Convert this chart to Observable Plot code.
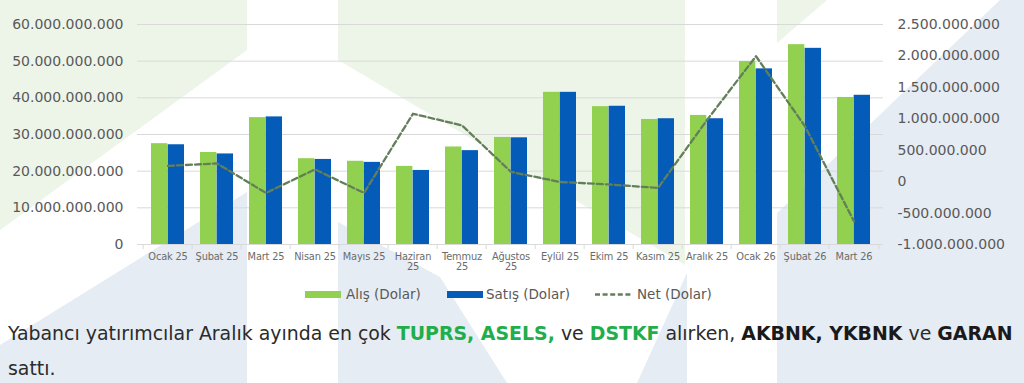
<!DOCTYPE html>
<html>
<head>
<meta charset="utf-8">
<script src="https://cdn.jsdelivr.net/npm/d3@7"></script>
<script src="https://cdn.jsdelivr.net/npm/@observablehq/plot@0.6"></script>
<style>
  html, body { margin: 0; padding: 0; background: #ffffff; }
  #wrap { position: relative; width: 1024px; height: 383px; overflow: hidden; font-family: "DejaVu Sans", sans-serif; }
  #bg { position: absolute; left: 0; top: 0; }
  #chart { position: absolute; left: 0; top: 0; }
  .legend { position: absolute; top: 285px; left: 0; height: 18px; font-size: 13.5px; color: #595959; line-height: 18px; }
  .legend .item { position: absolute; top: 0; white-space: nowrap; }
  .legend .sw { position: absolute; top: 6px; height: 7px; }
  .caption { position: absolute; left: 8px; white-space: nowrap; color: #2b2b2b; }
  .caption b.g { color: #1fae4b; }
  .caption b.k { color: #1a1a1a; }
  g[aria-label="x-axis tick label"] text { letter-spacing: -0.15px; }
</style>
</head>
<body>
<div id="wrap">
  <svg id="bg" width="1024" height="383">
    <g fill="#edf5e9">
      <polygon points="0,0 247,0 247,50 0,230"/>
      <polygon points="338,0 685,0 685,265 338,60"/>
      <polygon points="777,0 827,0 777,43"/>
    </g>
    <g fill="#e6ecf4">
      <polygon points="0,345 247,192 247,383 0,383"/>
      <polygon points="338,222 440,277 507,383 338,383"/>
      <polygon points="687,273 687,383 637,383"/>
      <polygon points="777,213 1000,0 1024,0 1024,383 777,383"/>
    </g>
  </svg>
  <div id="chart"></div>
  <div class="legend" id="legend"></div>
  <div class="caption" id="cap1">Yabancı yatırımcılar Aralık ayında en çok <b class="g">TUPRS, ASELS,</b> ve <b class="g">DSTKF</b> alırken, <b class="k">AKBNK, YKBNK</b> ve <b class="k">GARAN</b></div>
  <div class="caption" id="cap2">sattı.</div>
</div>
<script>
// ---- data ----
const months = ["Ocak 25","Şubat 25","Mart 25","Nisan 25","Mayıs 25","Haziran 25","Temmuz 25","Ağustos 25","Eylül 25","Ekim 25","Kasım 25","Aralık 25","Ocak 26","Şubat 26","Mart 26"];
const monthLabels = ["Ocak 25","Şubat 25","Mart 25","Nisan 25","Mayıs 25","Haziran\n25","Temmuz\n25","Ağustos\n25","Eylül 25","Ekim 25","Kasım 25","Aralık 25","Ocak 26","Şubat 26","Mart 26"];
// Alış (Dolar), billions
const alis = [27.5, 25.1, 34.6, 23.4, 22.7, 21.3, 26.6, 29.2, 41.5, 37.6, 34.1, 35.2, 49.9, 54.5, 40.1];
// Satış (Dolar), billions
const satis = [27.2, 24.7, 34.8, 23.2, 22.4, 20.2, 25.6, 29.1, 41.5, 37.7, 34.3, 34.3, 47.9, 53.5, 40.7];
// Net (Dolar), millions
const net = [250, 290, -180, 195, -180, 1080, 895, 155, -5, -45, -100, 980, 1995, 880, -630];
const leftTicks = [0, 10e9, 20e9, 30e9, 40e9, 50e9, 60e9];
const rightTicks = [-1e9, -0.5e9, 0, 0.5e9, 1e9, 1.5e9, 2e9, 2.5e9];
const seriesNames = ["Alış (Dolar)", "Satış (Dolar)", "Net (Dolar)"];

const colGreen = "#92d050";
const colBlue = "#055cb8";
const colNet = "#637f5a";

// ---- helpers ----
const loc = d3.formatLocale({decimal: ",", thousands: ".", grouping: [3], currency: ["", ""], minus: "-"});
const fmt = loc.format(",d");
const leftMax = 60e9, rMin = -1e9, rMax = 2.5e9;
const netToLeft = v => (v - rMin) / (rMax - rMin) * leftMax;
const leftToNet = v => v / leftMax * (rMax - rMin) + rMin;

const rows = months.map((m, i) => ({month: m, alis: alis[i] * 1e9, satis: satis[i] * 1e9, net: net[i] * 1e6}));
const labelOf = new Map(months.map((m, i) => [m, monthLabels[i]]));

const W = 1024, H = 280;
const mL = 137, mR = 141, mT = 24, mB = 36;
const step = (W - mL - mR) / months.length;
const padIn = 0.33;
const halfBar = step * (1 - padIn) / 2;

const chart = Plot.plot({
  width: W, height: H,
  marginTop: mT, marginBottom: mB, marginLeft: mL, marginRight: mR,
  style: {background: "transparent", fontFamily: "DejaVu Sans, sans-serif", color: "#595959", overflow: "visible"},
  x: {domain: months, paddingInner: padIn, paddingOuter: padIn / 2, label: null},
  y: {domain: [0, leftMax], label: null},
  marks: [
    Plot.gridY(leftTicks.slice(1), {stroke: "#d9d9d9", strokeOpacity: 1, strokeWidth: 1}),
    Plot.axisY(leftTicks, {tickSize: 0, tickPadding: 14, fontSize: 14, tickFormat: fmt, label: null, fill: "#595959"}),
    Plot.axisY(rightTicks.map(netToLeft), {anchor: "right", tickSize: 0, tickPadding: 14, fontSize: 14, label: null, fill: "#595959",
      tickFormat: d => fmt(Math.round(leftToNet(d) / 1e6) * 1e6)}),
    Plot.axisX({tickSize: 0, tickPadding: 7.5, fontSize: 9.8, lineHeight: 1.1, label: null, fill: "#6b6b6b", tickFormat: d => labelOf.get(d)}),
    Plot.ruleY([0], {stroke: "#d9d9d9"}),
    Plot.ruleX(months, {x: d => d, y1: 0, y2: 0, insetBottom: -5, dx: -step / 2, stroke: "#d9d9d9"}),
    Plot.ruleX(months.slice(-1), {x: d => d, y1: 0, y2: 0, insetBottom: -5, dx: step / 2, stroke: "#d9d9d9"}),
    Plot.barY(rows, {x: "month", y: "alis", fill: colGreen, insetRight: halfBar}),
    Plot.barY(rows, {x: "month", y: "satis", fill: colBlue, insetLeft: halfBar}),
    Plot.lineY(rows, {x: "month", y: d => netToLeft(d.net), stroke: colNet, strokeWidth: 2.3, strokeDasharray: "6 3"})
  ]
});
document.getElementById("chart").appendChild(chart);

// ---- legend ----
const legend = document.getElementById("legend");
const legendItems = [
  {name: seriesNames[0], sw: 305, tx: 346, type: "rect", color: colGreen},
  {name: seriesNames[1], sw: 447, tx: 486, type: "rect", color: colBlue},
  {name: seriesNames[2], sw: 595, tx: 637, type: "dash", color: colNet}
];
for (const it of legendItems) {
  if (it.type === "rect") {
    const s = document.createElement("div");
    s.className = "sw";
    s.style.left = it.sw + "px";
    s.style.width = "36px";
    s.style.background = it.color;
    legend.appendChild(s);
  } else {
    const s = document.createElementNS("http://www.w3.org/2000/svg", "svg");
    s.setAttribute("width", 40); s.setAttribute("height", 18);
    s.style.position = "absolute"; s.style.left = it.sw + "px"; s.style.top = "0px";
    const l = document.createElementNS("http://www.w3.org/2000/svg", "line");
    l.setAttribute("x1", 0); l.setAttribute("x2", 38); l.setAttribute("y1", 9.5); l.setAttribute("y2", 9.5);
    l.setAttribute("stroke", it.color); l.setAttribute("stroke-width", 2.3); l.setAttribute("stroke-dasharray", "5 2.6");
    s.appendChild(l);
    legend.appendChild(s);
  }
  const t = document.createElement("div");
  t.className = "item";
  t.style.left = it.tx + "px";
  t.textContent = it.name;
  legend.appendChild(t);
}

// ---- caption fit ----
const c1 = document.getElementById("cap1"), c2 = document.getElementById("cap2");
let fs = 20;
c1.style.fontSize = fs + "px";
const w = c1.getBoundingClientRect().width;
fs = fs * 1005 / w;
for (const [c, base] of [[c1, 340], [c2, 375]]) {
  c.style.fontSize = fs + "px";
  c.style.lineHeight = (fs * 1.164) + "px";
  c.style.top = (base - 0.928 * fs) + "px";
}
</script>
</body>
</html>
